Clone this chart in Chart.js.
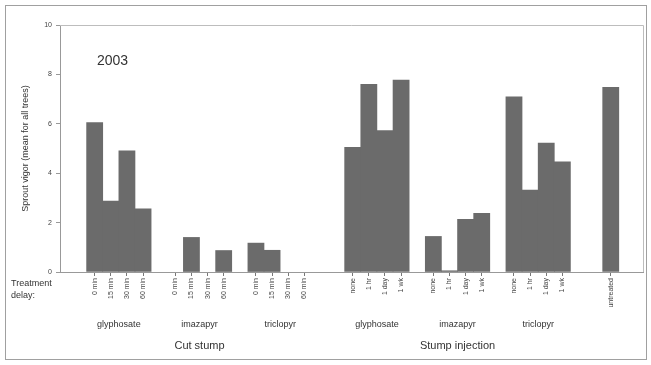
<!DOCTYPE html>
<html>
<head>
<meta charset="utf-8">
<script src="https://cdn.jsdelivr.net/npm/chart.js@4/dist/chart.umd.min.js"></script>
<style>
body { margin: 0; background: #fff; }
#wrap { width: 651px; height: 365px; }
</style>
</head>
<body>
<div id="wrap"><canvas id="myChart" width="651" height="365"></canvas></div>
<script>
var cutDelay = ["0 min", "15 min", "30 min", "60 min"];
var injDelay = ["none", "1 hr", "1 day", "1 wk"];

var cutGlyphosate = [6.05, 2.87, 4.91, 2.56];
var cutImazapyr = [0, 1.40, 0, 0.87];
var cutTriclopyr = [1.17, 0.88, 0, 0];
var injGlyphosate = [5.05, 7.60, 5.73, 7.77];
var injImazapyr = [1.44, 0.05, 2.13, 2.38];
var injTriclopyr = [7.09, 3.32, 5.22, 4.46];
var untreated = [7.48];

var yTicks = [0, 2, 4, 6, 8, 10];

// build bar positions: groups sit side by side with blank slots between them
var pos = 0, points = [], tickText = {}, groups = [];
function addGroup(name, section, labels, values, gap) {
  pos += gap;
  var start = pos;
  values.forEach(function (v, i) {
    points.push({x: pos, y: v});
    tickText[pos] = labels[i];
    pos++;
  });
  groups.push({name: name, section: section, first: start, last: pos - 1});
}
addGroup("glyphosate", "Cut stump", cutDelay, cutGlyphosate, 0);
addGroup("imazapyr", "Cut stump", cutDelay, cutImazapyr, 1);
addGroup("triclopyr", "Cut stump", cutDelay, cutTriclopyr, 1);
addGroup("glyphosate", "Stump injection", injDelay, injGlyphosate, 2);
addGroup("imazapyr", "Stump injection", injDelay, injImazapyr, 1);
addGroup("triclopyr", "Stump injection", injDelay, injTriclopyr, 1);
addGroup("", "", ["untreated"], untreated, 2);

var font = "'Liberation Sans', Arial, sans-serif";

var labelsPlugin = {
  id: "labels",
  afterDraw: function (chart) {
    var ctx = chart.ctx, a = chart.chartArea, xs = chart.scales.x;
    ctx.save();
    ctx.strokeStyle = "#a0a0a0";
    ctx.lineWidth = 1;
    ctx.strokeRect(5.5, 5.5, 641, 354);
    ctx.strokeStyle = "#bdbdbd";
    ctx.beginPath();
    ctx.moveTo(a.left, a.top + 0.5);
    ctx.lineTo(a.right + 0.5, a.top + 0.5);
    ctx.lineTo(a.right + 0.5, a.bottom);
    ctx.stroke();

    ctx.fillStyle = "#333";
    ctx.textAlign = "left";
    ctx.textBaseline = "middle";
    ctx.font = "14px " + font;
    ctx.fillText("2003", a.left + 37, a.top + 36);

    ctx.font = "9px " + font;
    ctx.fillText("Treatment", 11, 284);
    ctx.fillText("delay:", 11, 296);

    ctx.textAlign = "center";
    var sections = {};
    groups.forEach(function (g) {
      if (!g.name) return;
      var c = (xs.getPixelForValue(g.first) + xs.getPixelForValue(g.last)) / 2;
      ctx.font = "9px " + font;
      ctx.fillText(g.name, c, 325);
      if (!sections[g.section]) sections[g.section] = {first: g.first, last: g.last};
      sections[g.section].last = g.last;
    });
    ctx.font = "11px " + font;
    Object.keys(sections).forEach(function (s) {
      var c = (xs.getPixelForValue(sections[s].first) + xs.getPixelForValue(sections[s].last)) / 2;
      ctx.fillText(s, c, 346);
    });
    ctx.restore();
  }
};

new Chart("myChart", {
  type: "bar",
  data: {
    datasets: [{
      data: points,
      backgroundColor: function (c) {
        return c.raw && c.raw.y > 0 ? "#6b6b6b" : "rgba(0,0,0,0)";
      },
      borderWidth: 0,
      barPercentage: 1,
      categoryPercentage: 1
    }]
  },
  options: {
    responsive: false,
    animation: false,
    layout: {padding: {left: 10, top: 25, right: 8, bottom: 0}},
    plugins: {legend: {display: false}, tooltip: {enabled: false}},
    scales: {
      x: {
        type: "linear",
        offset: false,
        min: -2.15,
        max: 34,
        afterFit: function (s) { s.height = 93; },
        afterBuildTicks: function (s) {
          s.ticks = points.map(function (p) { return {value: p.x}; });
        },
        ticks: {
          autoSkip: false,
          minRotation: 90,
          maxRotation: 90,
          padding: 2,
          color: "#444",
          font: {family: font, size: 7},
          callback: function (v) { return tickText[v]; }
        },
        grid: {offset: false, drawOnChartArea: false, drawTicks: true, tickLength: 4, color: "#777"},
        border: {color: "#999"}
      },
      y: {
        min: 0,
        max: 10,
        afterFit: function (s) { s.width = 50; },
        afterBuildTicks: function (s) {
          s.ticks = yTicks.map(function (v) { return {value: v}; });
        },
        ticks: {color: "#444", padding: 4, font: {family: font, size: 7}},
        grid: {drawOnChartArea: false, drawTicks: true, tickLength: 4, color: "#999"},
        border: {color: "#999"},
        title: {
          display: true,
          text: "Sprout vigor (mean for all trees)",
          color: "#333",
          padding: {top: 10, bottom: 0},
          font: {family: font, size: 9}
        }
      }
    }
  },
  plugins: [labelsPlugin]
});
</script>
</body>
</html>
